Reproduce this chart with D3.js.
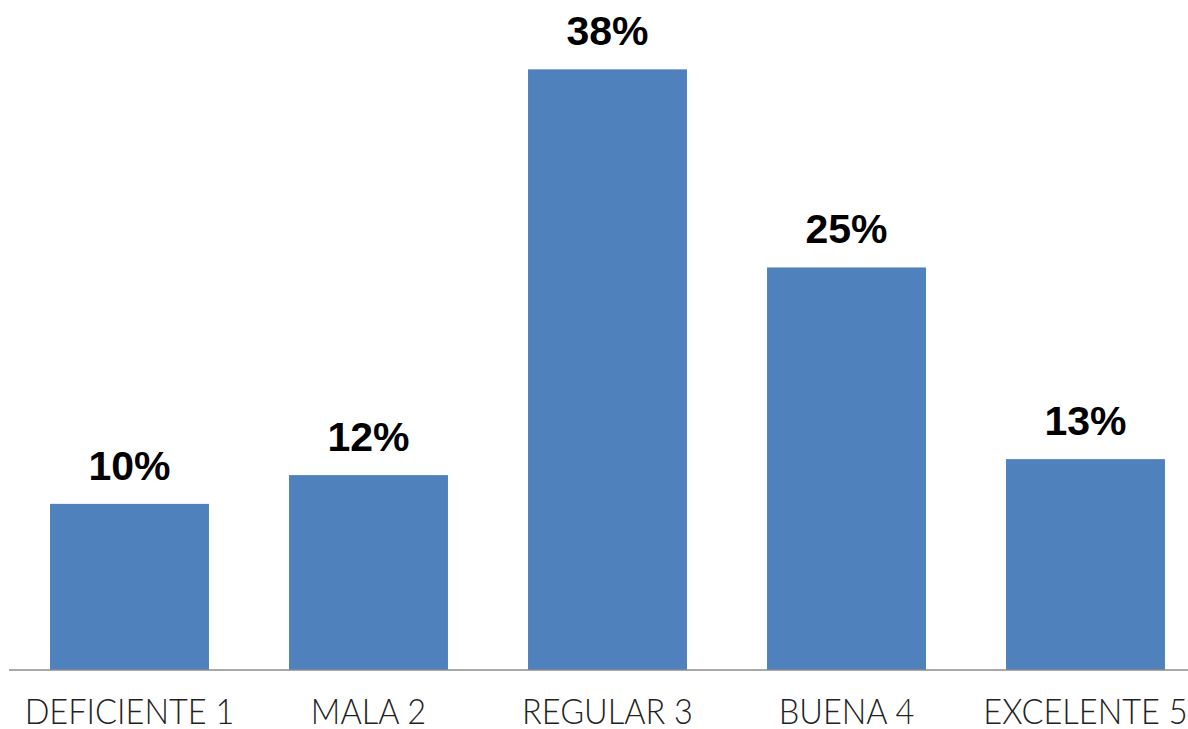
<!DOCTYPE html>
<html>
<head>
<meta charset="utf-8">
<script src="https://cdn.jsdelivr.net/npm/d3@7"></script>
<style>
  html, body { margin: 0; padding: 0; background: #ffffff; overflow: hidden; }
  svg { display: block; }
</style>
</head>
<body>
<svg id="chart" width="1188" height="729"></svg>
<script>
const categories = ["DEFICIENTE 1", "MALA 2", "REGULAR 3", "BUENA 4", "EXCELENTE 5"];
const values = [10.4, 12.2, 37.6, 25.2, 13.2];
const yDomain = [0, 40];

const svg = d3.select("#chart");
const baseY = 670, topY = 31;

const x = d3.scaleBand()
  .domain(categories)
  .range([10, 1205])
  .paddingInner(0.335)
  .paddingOuter(0.1675);

const y = d3.scaleLinear().domain(yDomain).range([baseY, topY]);

const data = categories.map((c, i) => ({ c, v: values[i] }));

svg.append("g").selectAll("rect")
  .data(data)
  .join("rect")
  .attr("x", d => x(d.c))
  .attr("y", d => y(d.v))
  .attr("width", x.bandwidth())
  .attr("height", d => y(0) - y(d.v))
  .attr("fill", "#4f81bd");

// axis
const axis = d3.axisBottom(x).tickSize(0).tickPadding(29);
const gx = svg.append("g").attr("transform", `translate(0,${baseY})`).call(axis);
gx.select(".domain").remove();
gx.append("line")
  .attr("x1", 9).attr("x2", 1188)
  .attr("y1", 0).attr("y2", 0)
  .attr("stroke", "#8c8c8c").attr("stroke-width", 1.5);
gx.selectAll(".tick text")
  .attr("fill", "#222")
  .style("font-family", "Lato, 'Liberation Sans', sans-serif")
  .style("font-weight", "300")
  .style("font-size", "35px")
  .attr("dy", "0.71em")
  .attr("transform", "scale(0.93,1)");

// value labels
svg.append("g").selectAll("text")
  .data(data)
  .join("text")
  .attr("x", d => x(d.c) + x.bandwidth() / 2)
  .attr("y", d => y(d.v) - 24)
  .attr("text-anchor", "middle")
  .style("font-family", "'Liberation Sans', Arial, sans-serif")
  .style("font-weight", "bold")
  .style("font-size", "41px")
  .attr("fill", "#000")
  .text(d => Math.round(d.v) + "%");
</script>
</body>
</html>
